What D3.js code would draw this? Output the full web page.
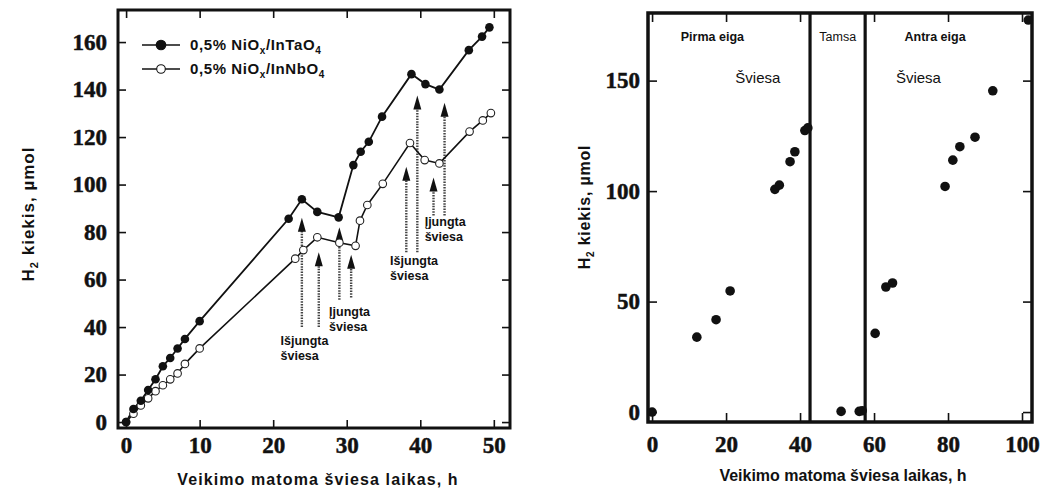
<!DOCTYPE html>
<html>
<head>
<meta charset="utf-8">
<script src="https://cdn.jsdelivr.net/npm/d3@7"></script>
<style>
  body { margin: 0; background: #fff; }
  .tick text { font-family: "Liberation Serif", "Times New Roman", serif; font-weight: bold; fill: #111; stroke: #111; stroke-width: 0.5; }
  .tick line { stroke: #111; stroke-width: 1.6; }
  .lbl { font-family: "Liberation Sans", Arial, sans-serif; font-weight: bold; fill: #111; }
  .nar { font-family: "Liberation Sans Narrow", "Liberation Sans", Arial, sans-serif; fill: #111; }
</style>
</head>
<body>
<script>
// --- kairysis grafikas: dvi serijos
const taoTime = [0, 1, 2, 3, 4, 5, 6, 7, 8, 10, 22.1, 23.9, 26.0, 28.9, 30.9, 31.9, 33.0, 34.8, 38.8, 40.7, 42.6, 46.6, 48.4, 49.4];
const taoH2   = [0, 5.5, 9, 13.5, 18, 23.5, 27, 31, 35, 42.5, 85.6, 93.8, 88.5, 86.2, 108.2, 113.8, 118, 128.6, 146.5, 142.3, 140, 156.6, 162.3, 166.2];

const nboTime = [0, 1, 2, 3, 4, 5, 6, 7, 8, 10, 23.0, 24.1, 26.0, 29.0, 31.2, 31.8, 32.8, 34.9, 38.6, 40.6, 42.6, 46.7, 48.5, 49.6];
const nboH2   = [0, 3.5, 7, 10, 13, 15.5, 18, 20.5, 24.5, 31, 68.8, 72.4, 77.8, 75.5, 74.2, 84.8, 91.4, 100.3, 117.5, 110.3, 108.9, 122.3, 127, 130.1];

const seriesNames = ["0,5% NiO|x|/InTaO|4", "0,5% NiO|x|/InNbO|4"];

// rodyklės: laikas, nuo, iki (µmol)
const arrowTime = [23.9, 26.2, 29.0, 30.6, 38.1, 39.6, 41.8, 43.3];
const arrowFrom = [40, 40, 51.5, 52.5, 71.5, 71.5, 87, 87];
const arrowTo   = [86, 71.5, 82, 70.5, 107.5, 137.5, 103, 134.5];

const noteText = [["Išjungta", "šviesa"], ["Įjungta", "šviesa"], ["Išjungta", "šviesa"], ["Įjungta", "šviesa"]];
const noteTime = [21.0, 27.6, 35.9, 40.6];
const noteH2   = [32.5, 44.5, 66, 82.5];

const leftXTicks = [0, 10, 20, 30, 40, 50];
const leftYTicks = [0, 20, 40, 60, 80, 100, 120, 140, 160];

// --- dešinysis grafikas
const runTime = [0, 12.1, 17.3, 21.1, 33.2, 34.4, 37.3, 38.6, 41.3, 42.1, 51.1, 56.0, 56.8, 60.3, 63.2, 65.0, 79.2, 81.3, 83.2, 87.3, 92.1, 101.7];
const runH2   = [0, 33.9, 41.8, 54.8, 100.8, 102.7, 113.3, 117.8, 127.4, 128.6, 0.3, 0.3, 0.6, 35.6, 56.6, 58.4, 102.1, 114, 120.1, 124.4, 145.4, 177.4];

const darkStart = 42.7, darkEnd = 57.6;
const phaseText = ["Pirma eiga", "Tamsa", "Antra eiga"];
const phaseTime = [16.3, 50.2, 76.5];
const lightText = ["Šviesa", "Šviesa"];
const lightTime = [28.6, 72.0];

const rightXTicks = [0, 20, 40, 60, 80, 100];
const rightYTicks = [0, 50, 100, 150];

const xTitle = "Veikimo matoma šviesa laikas, h";

const svg = d3.select("body").append("svg")
  .attr("width", 1040)
  .attr("height", 490);

function subText(sel, parts, subSize) {
  parts.split("|").forEach((p, i) => {
    const t = sel.append("tspan").text(p);
    if (i % 2 === 1) t.attr("font-size", subSize).attr("dy", 4);
    else if (i > 0) t.attr("dy", -4);
  });
}

// ================= kairysis =================
const xL = d3.scaleLinear().domain([-1.1, 52.2]).range([118, 510]);
const yL = d3.scaleLinear().domain([-2.5, 173.5]).range([428, 10]);

const gL = svg.append("g");

gL.append("g").attr("transform", "translate(0,428)")
  .call(d3.axisBottom(xL).tickValues(leftXTicks).tickSize(-8).tickPadding(9))
  .call(g => g.select(".domain").remove())
  .selectAll("text").attr("font-size", 23);
gL.append("g").attr("transform", "translate(0,10)")
  .call(d3.axisTop(xL).tickValues(leftXTicks).tickSize(-8).tickFormat(""))
  .call(g => g.select(".domain").remove());
gL.append("g").attr("transform", "translate(118,0)")
  .call(d3.axisLeft(yL).tickValues(leftYTicks).tickSize(-8).tickPadding(11))
  .call(g => g.select(".domain").remove())
  .selectAll("text").attr("font-size", 23);
gL.append("g").attr("transform", "translate(510,0)")
  .call(d3.axisRight(yL).tickValues(leftYTicks).tickSize(-8).tickFormat(""))
  .call(g => g.select(".domain").remove());

gL.append("rect")
  .attr("x", 118).attr("y", 10).attr("width", 392).attr("height", 418)
  .attr("fill", "none").attr("stroke", "#111").attr("stroke-width", 3);

// rodyklės
const arrows = arrowTime.map((t, i) => ({ t, from: arrowFrom[i], to: arrowTo[i] }));
gL.selectAll("line.arr")
  .data(arrows).enter().append("line")
  .attr("class", "arr")
  .attr("x1", d => xL(d.t)).attr("x2", d => xL(d.t))
  .attr("y1", d => yL(d.from)).attr("y2", d => yL(d.to) + 12)
  .attr("stroke", "#444").attr("stroke-width", 2.4)
  .attr("stroke-dasharray", "1.5,1.2");
gL.selectAll("path.head")
  .data(arrows).enter().append("path")
  .attr("class", "head")
  .attr("d", d => {
    const x = xL(d.t), y = yL(d.to);
    return `M${x},${y} L${x - 4},${y + 14} L${x + 4},${y + 14} Z`;
  })
  .attr("fill", "#111");

// serijos
const line = d3.line().x(d => xL(d[0])).y(d => yL(d[1]));
const tao = taoTime.map((t, i) => [t, taoH2[i]]);
const nbo = nboTime.map((t, i) => [t, nboH2[i]]);

gL.append("path").datum(nbo).attr("d", line)
  .attr("fill", "none").attr("stroke", "#111").attr("stroke-width", 1.6);
gL.append("path").datum(tao).attr("d", line)
  .attr("fill", "none").attr("stroke", "#111").attr("stroke-width", 1.8);

gL.selectAll("circle.nbo")
  .data(nbo).enter().append("circle")
  .attr("class", "nbo")
  .attr("cx", d => xL(d[0])).attr("cy", d => yL(d[1]))
  .attr("r", 3.8)
  .attr("fill", "#fff").attr("stroke", "#222").attr("stroke-width", 1.1);
gL.selectAll("circle.tao")
  .data(tao).enter().append("circle")
  .attr("class", "tao")
  .attr("cx", d => xL(d[0])).attr("cy", d => yL(d[1]))
  .attr("r", 4.3)
  .attr("fill", "#111");

// užrašai prie rodyklių
noteText.forEach((lines, i) => {
  const t = gL.append("text").attr("class", "lbl")
    .attr("x", xL(noteTime[i])).attr("y", yL(noteH2[i]))
    .attr("font-size", 12.5);
  lines.forEach((s, j) => t.append("tspan")
    .attr("x", xL(noteTime[i])).attr("dy", j === 0 ? 0 : 15).text(s));
});

// legenda
const leg = gL.append("g");
[0, 1].forEach(i => {
  const yy = 45 + i * 24;
  leg.append("line").attr("x1", 142).attr("x2", 180).attr("y1", yy).attr("y2", yy)
    .attr("stroke", "#111").attr("stroke-width", 1.6);
  leg.append("circle").attr("cx", 161).attr("cy", yy).attr("r", i === 0 ? 4.8 : 4.3)
    .attr("fill", i === 0 ? "#111" : "#fff").attr("stroke", "#111").attr("stroke-width", 1.1);
  const tx = leg.append("text").attr("class", "lbl").attr("x", 190).attr("y", yy + 5)
    .attr("font-size", 15).attr("letter-spacing", 0.6);
  subText(tx, seriesNames[i], 10);
});

// ašių pavadinimai
gL.append("text").attr("class", "lbl")
  .attr("x", 318).attr("y", 485).attr("text-anchor", "middle")
  .attr("font-size", 16).attr("letter-spacing", 1.1)
  .text(xTitle);
const yt = gL.append("text").attr("class", "lbl")
  .attr("transform", "translate(34,214) rotate(-90)")
  .attr("text-anchor", "middle").attr("font-size", 17).attr("letter-spacing", 1);
subText(yt, "H|2| kiekis, µmol", 11);

// ================= dešinysis =================
const xR = d3.scaleLinear().domain([-1.1, 102.7]).range([648, 1032]);
const yR = d3.scaleLinear().domain([-4.5, 180.6]).range([422, 13]);

const gR = svg.append("g");

gR.append("g").attr("transform", "translate(0,422)")
  .call(d3.axisBottom(xR).tickValues(rightXTicks).tickSize(-9).tickPadding(14))
  .call(g => g.select(".domain").remove())
  .selectAll("text").attr("font-size", 23);
gR.append("g").attr("transform", "translate(0,13)")
  .call(d3.axisTop(xR).tickValues(rightXTicks).tickSize(-9).tickFormat(""))
  .call(g => g.select(".domain").remove());
gR.append("g").attr("transform", "translate(648,0)")
  .call(d3.axisLeft(yR).tickValues(rightYTicks).tickSize(-9).tickPadding(8))
  .call(g => g.select(".domain").remove())
  .selectAll("text").attr("font-size", 23);
gR.append("g").attr("transform", "translate(1032,0)")
  .call(d3.axisRight(yR).tickValues(rightYTicks).tickSize(-9).tickFormat(""))
  .call(g => g.select(".domain").remove());

gR.selectAll(".tick line").attr("stroke-width", 2.2);

gR.append("rect")
  .attr("x", 648).attr("y", 13).attr("width", 384).attr("height", 409)
  .attr("fill", "none").attr("stroke", "#111").attr("stroke-width", 3.5);

gR.selectAll("line.dark")
  .data([darkStart, darkEnd]).enter().append("line")
  .attr("class", "dark")
  .attr("x1", d => xR(d)).attr("x2", d => xR(d))
  .attr("y1", 13).attr("y2", 422)
  .attr("stroke", "#111").attr("stroke-width", 3.2);

const run = runTime.map((t, i) => [t, runH2[i]]);
gR.selectAll("circle.run")
  .data(run).enter().append("circle")
  .attr("class", "run")
  .attr("cx", d => xR(d[0])).attr("cy", d => yR(d[1]))
  .attr("r", 4.8)
  .attr("fill", "#111");

gR.selectAll("text.phase")
  .data(phaseText).enter().append("text")
  .attr("class", "nar")
  .attr("x", (d, i) => xR(phaseTime[i])).attr("y", 41)
  .attr("text-anchor", "middle")
  .attr("font-size", 12.5)
  .attr("font-weight", (d, i) => i === 1 ? "normal" : "bold")
  .text(d => d);

gR.selectAll("text.light")
  .data(lightText).enter().append("text")
  .attr("class", "nar")
  .attr("x", (d, i) => xR(lightTime[i])).attr("y", 83)
  .attr("text-anchor", "middle")
  .attr("font-size", 15)
  .text(d => d);

gR.append("text").attr("class", "nar")
  .attr("x", 843).attr("y", 481).attr("text-anchor", "middle")
  .attr("font-size", 16).attr("font-weight", "bold")
  .text(xTitle);
const yt2 = gR.append("text").attr("class", "lbl")
  .attr("transform", "translate(590,207) rotate(-90)")
  .attr("text-anchor", "middle").attr("font-size", 16).attr("letter-spacing", 0.8);
subText(yt2, "H|2| kiekis, µmol", 10);
</script>
</body>
</html>
